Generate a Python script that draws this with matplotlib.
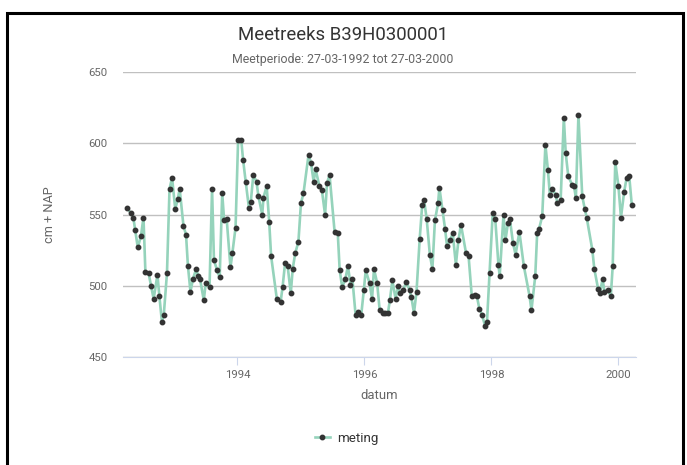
import numpy as np
import matplotlib
matplotlib.use("Agg")
import matplotlib.pyplot as plt
from matplotlib.patches import Rectangle

plt.rcParams['font.family'] = ['Roboto', 'DejaVu Sans']

# meetdatum (decimaal jaar) en grondwaterstand (cm + NAP)
datum = [
    1992.26, 1992.32, 1992.36, 1992.39, 1992.43, 1992.48, 1992.52, 1992.55, 1992.60, 1992.64,
    1992.68, 1992.74, 1992.77, 1992.81, 1992.84, 1992.89, 1992.93, 1992.97, 1993.02, 1993.06,
    1993.09, 1993.15, 1993.19, 1993.22, 1993.26, 1993.30, 1993.35, 1993.38, 1993.41, 1993.47,
    1993.50, 1993.56, 1993.60, 1993.63, 1993.68, 1993.72, 1993.76, 1993.79, 1993.83, 1993.89,
    1993.92, 1993.97, 1994.01, 1994.06, 1994.09, 1994.13, 1994.18, 1994.21, 1994.25, 1994.30,
    1994.33, 1994.39, 1994.41, 1994.46, 1994.50, 1994.53, 1994.62, 1994.68, 1994.71, 1994.75,
    1994.79, 1994.84, 1994.87, 1994.91, 1994.96, 1995.00, 1995.04, 1995.12, 1995.16, 1995.20,
    1995.23, 1995.29, 1995.33, 1995.38, 1995.41, 1995.45, 1995.53, 1995.58, 1995.61, 1995.65,
    1995.70, 1995.74, 1995.78, 1995.81, 1995.86, 1995.90, 1995.95, 1995.99, 1996.02, 1996.08,
    1996.12, 1996.15, 1996.20, 1996.24, 1996.29, 1996.33, 1996.37, 1996.40, 1996.44, 1996.49,
    1996.53, 1996.56, 1996.61, 1996.66, 1996.71, 1996.74, 1996.78, 1996.82, 1996.87, 1996.91,
    1996.94, 1996.98, 1997.03, 1997.07, 1997.11, 1997.16, 1997.18, 1997.23, 1997.27, 1997.30,
    1997.35, 1997.39, 1997.44, 1997.48, 1997.52, 1997.60, 1997.64, 1997.69, 1997.74, 1997.77,
    1997.81, 1997.85, 1997.90, 1997.93, 1997.97, 1998.02, 1998.06, 1998.11, 1998.13, 1998.19,
    1998.22, 1998.26, 1998.29, 1998.34, 1998.38, 1998.44, 1998.51, 1998.60, 1998.63, 1998.69,
    1998.72, 1998.75, 1998.80, 1998.85, 1998.89, 1998.92, 1998.96, 1999.01, 1999.04, 1999.09,
    1999.14, 1999.17, 1999.21, 1999.27, 1999.30, 1999.33, 1999.37, 1999.43, 1999.47, 1999.50,
    1999.59, 1999.62, 1999.68, 1999.71, 1999.75, 1999.78, 1999.83, 1999.88, 1999.91, 1999.95,
    2000.00, 2000.04, 2000.09, 2000.13, 2000.17, 2000.21,
]
meting = [
    555, 551, 548, 539, 527, 535, 548, 510, 509, 500,
    491, 508, 493, 475, 480, 509, 568, 576, 554, 561,
    568, 542, 536, 514, 496, 505, 512, 507, 505, 490,
    502, 499, 568, 518, 511, 506, 565, 546, 547, 513,
    523, 541, 602, 602, 588, 573, 555, 559, 578, 573,
    563, 550, 562, 570, 545, 521, 491, 489, 499, 516,
    514, 495, 512, 523, 531, 558, 565, 592, 586, 573,
    582, 570, 567, 550, 572, 578, 538, 537, 511, 499,
    505, 514, 501, 505, 480, 482, 480, 497, 511, 502,
    491, 512, 502, 483, 481, 481, 481, 490, 504, 491,
    500, 495, 497, 503, 497, 492, 481, 496, 533, 557,
    560, 547, 522, 512, 546, 558, 569, 553, 540, 528,
    532, 537, 515, 532, 543, 523, 521, 493, 494, 493,
    484, 480, 472, 475, 509, 551, 547, 515, 507, 550,
    532, 544, 547, 530, 522, 538, 514, 493, 483, 507,
    537, 540, 549, 599, 581, 564, 568, 564, 558, 560,
    618, 593, 577, 571, 570, 562, 620, 563, 554, 548,
    525, 512, 498, 495, 505, 496, 497, 493, 514, 587,
    570, 548, 566, 576, 577, 557,
]
jaren = [1994, 1996, 1998, 2000]
yticks = [450, 500, 550, 600, 650]

fig = plt.figure(figsize=(6.87, 4.65), dpi=100)
ax = fig.add_axes([0.179, 0.2316, 0.7467, 0.6135])

ax.plot(datum, meting, color='#95d3bb', lw=1.9, marker='o', ms=3.2,
        mfc='#333333', mec='#333333', label='meting', zorder=3)

ax.set_xlim(1992.197, 2000.276)
ax.set_ylim(450, 650)
ax.set_xticks(jaren)
ax.set_xticklabels([str(j) for j in jaren])
ax.set_yticks(yticks)
ax.grid(axis='y', color='#c0c0c0', lw=1)
ax.set_axisbelow(True)
for s in ['left', 'right', 'top']:
    ax.spines[s].set_visible(False)
ax.spines['bottom'].set_color('#ccd6eb')
ax.tick_params(axis='x', length=6, color='#ccd6eb', pad=3, labelsize=8.2, labelcolor='#666666')
ax.tick_params(axis='y', length=0, pad=11, labelsize=8.2, labelcolor='#666666')

ax.set_xlabel('datum', fontsize=9.4, color='#666666')
ax.xaxis.set_label_coords(0.5, -0.112)
ax.set_ylabel('cm + NAP', fontsize=9.2, color='#666666')
ax.yaxis.set_label_coords(-0.13, 0.5)

fig.text(0.499, 0.925, 'Meetreeks B39H0300001', ha='center', va='center',
         fontsize=13.4, color='#333333')
fig.text(0.499, 0.873, 'Meetperiode: 27-03-1992 tot 27-03-2000', ha='center', va='center',
         fontsize=8.9, color='#666666')

fig.legend(loc='center', bbox_to_anchor=(0.505, 0.058), frameon=False, fontsize=9.6,
           labelcolor='#333333', handlelength=1.1, handletextpad=0.6)

# zwart kader rond de figuur (onderkant valt buiten beeld)
fig.add_artist(Rectangle((0.0102, -0.1), 0.984, 1.072, transform=fig.transFigure,
                         fill=False, ec='black', lw=2.2, clip_on=False))

fig.savefig('out.png', dpi=100)
